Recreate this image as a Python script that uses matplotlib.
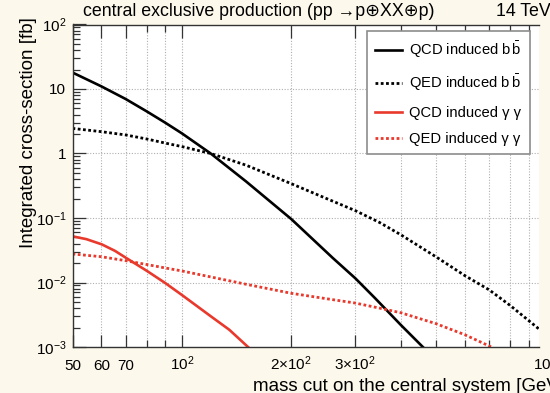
import numpy as np
import matplotlib
matplotlib.use("Agg")
import matplotlib.pyplot as plt
import matplotlib.transforms as mtransforms
from matplotlib.ticker import FixedLocator, FixedFormatter, LogLocator, NullFormatter

plt.rcParams['font.family'] = ['Liberation Sans', 'DejaVu Sans']
plt.rcParams['mathtext.fontset'] = 'custom'
plt.rcParams['mathtext.rm'] = 'Liberation Sans'
plt.rcParams['mathtext.it'] = 'Liberation Sans:italic'
plt.rcParams['mathtext.bf'] = 'Liberation Sans:bold'

# integrated cross-section [fb] above the mass cut [GeV]
m_qcd_bb = [50, 60, 70, 80, 90, 100, 120, 150, 200, 260, 300, 340, 400, 460]
xs_qcd_bb = [18, 11, 7.0, 4.5, 3.0, 2.05, 1.0, 0.37, 0.096, 0.024, 0.0116, 0.0057, 0.0022, 0.001]

m_qed_bb = [50, 60, 70, 80, 90, 100, 120, 150, 200, 250, 300, 350, 400, 500, 600, 700, 800, 960]
xs_qed_bb = [2.45, 2.18, 1.94, 1.68, 1.45, 1.28, 1.0, 0.66, 0.34, 0.2, 0.13, 0.085,
             0.055, 0.025, 0.0128, 0.0077, 0.0044, 0.0019]

m_qcd_gg = [50, 54.6, 60.2, 65.4, 70.5, 80, 90, 100, 120, 135, 152]
xs_qcd_gg = [0.052, 0.047, 0.039, 0.031, 0.0237, 0.0152, 0.0098, 0.0064, 0.0030, 0.00185, 0.001]

m_qed_gg = [50, 60, 70, 80, 90, 100, 120, 150, 200, 250, 300, 350, 400, 500, 600, 710]
xs_qed_gg = [0.0277, 0.0251, 0.0218, 0.0190, 0.0168, 0.0151, 0.0122, 0.0094, 0.0068,
             0.0056, 0.0048, 0.0040, 0.0034, 0.0023, 0.00155, 0.001]

labels = [r'$\mathrm{QCD\ induced\ b\,\bar{b}}$',
          r'$\mathrm{QED\ induced\ b\,\bar{b}}$',
          'QCD induced γ γ',
          'QED induced γ γ']

x_ticks = [50, 60, 70, 100, 200, 300]
x_ticklabels = ['50', '60', '70', r'$10^2$', r'$2{\times}10^2$', r'$3{\times}10^2$']
y_ticks = [1e-3, 1e-2, 1e-1, 1, 10, 100]
y_ticklabels = [r'$10^{-3}$', r'$10^{-2}$', r'$10^{-1}$', '1', '10', r'$10^2$']

cream = '#fcf8ec'
red = '#e8392c'
dots = (0, (1, 0.9))

fig = plt.figure(figsize=(5.5, 3.93), dpi=100, facecolor=cream)
ax = fig.add_axes([72.5 / 550, 46 / 393, 466.5 / 550, 322.5 / 393])
ax.set_facecolor('white')

line_kw = dict(solid_joinstyle='round', dash_capstyle='butt')
ax.plot(m_qcd_bb, xs_qcd_bb, color='black', lw=1.9, label=labels[0], **line_kw)
ax.plot(m_qed_bb, xs_qed_bb, color='black', lw=2.0, linestyle=dots, label=labels[1], **line_kw)
ax.plot(m_qcd_gg, xs_qcd_gg, color=red, lw=1.9, label=labels[2], **line_kw)
ax.plot(m_qed_gg, xs_qed_gg, color=red, lw=2.0, linestyle=dots, label=labels[3], **line_kw)

ax.set_xscale('log')
ax.set_yscale('log')
ax.set_xlim(50, 960)
ax.set_ylim(1e-3, 100)

ax.xaxis.set_major_locator(FixedLocator(x_ticks))
ax.xaxis.set_major_formatter(FixedFormatter(x_ticklabels))
ax.xaxis.set_minor_locator(LogLocator(base=10, subs=np.arange(2, 10), numticks=20))
ax.xaxis.set_minor_formatter(NullFormatter())
ax.yaxis.set_major_locator(FixedLocator(y_ticks))
ax.yaxis.set_major_formatter(FixedFormatter(y_ticklabels))
ax.yaxis.set_minor_locator(LogLocator(base=10, subs=np.arange(2, 10), numticks=20))
ax.yaxis.set_minor_formatter(NullFormatter())

ax.grid(which='both', axis='x', color='#b0b0b0', lw=0.8, linestyle=(0, (1, 1.5)))
ax.grid(which='major', axis='y', color='#b0b0b0', lw=0.8, linestyle=(0, (1, 1.5)))

ax.tick_params(which='both', direction='in', top=True, right=False, color='#333333', width=0.9)
ax.tick_params(which='major', length=9)
ax.tick_params(which='minor', length=5)
ax.tick_params(axis='x', which='major', pad=16.5, labelsize=11)
ax.tick_params(axis='y', which='major', pad=4.5, labelsize=11)
for lab in ax.get_xticklabels():
    lab.set_va('baseline')

ax.spines['right'].set_visible(False)
for s in ('left', 'bottom', 'top'):
    ax.spines[s].set_color('#333333')
    ax.spines[s].set_linewidth(1.0)

# 10^3 sits just past the visible range
lab_tr = mtransforms.offset_copy(ax.get_xaxis_transform(), fig=fig, y=-16.5, units='points')
ax.text(1000, 0, r'$10^3$', transform=lab_tr, ha='center', va='baseline',
        fontsize=11, clip_on=False)

ax.set_xlabel('mass cut on the central system [GeV]', fontsize=13.5, loc='left')
ax.xaxis.set_label_coords((253 - 72.5) / 466.5, -0.095)
fig.text(28.5 / 550, 1 - 17 / 393, 'Integrated cross-section [fb]', fontsize=13.5,
         rotation=90, ha='center', va='top')

fig.text(83 / 550, 1 - 12 / 393, 'central exclusive production (pp →p⊕XX⊕p)',
         fontsize=12.8, ha='left', va='center')
fig.text(496 / 550, 1 - 12 / 393, '14 TeV', fontsize=12.8, ha='left', va='center')

leg = ax.legend(loc='upper left', bbox_to_anchor=(367 / 550, 1 - 31 / 393),
                bbox_transform=fig.transFigure, borderaxespad=0,
                fontsize=10.6, frameon=True, fancybox=False, framealpha=1,
                edgecolor='#8c8c8c', handlelength=1.8, handletextpad=0.5,
                labelspacing=0.85, borderpad=0.55)
leg.get_frame().set_linewidth(1.2)

fig.savefig('out.png', dpi=100, facecolor=cream)
